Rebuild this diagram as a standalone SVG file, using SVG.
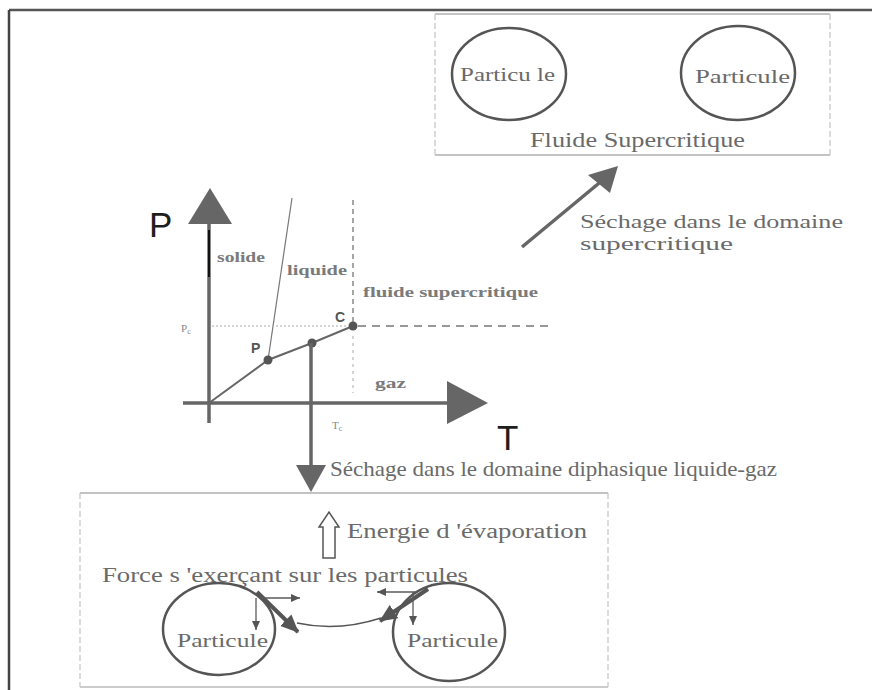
<svg xmlns="http://www.w3.org/2000/svg" width="872" height="690" viewBox="0 0 872 690">
<style>
.t{font-family:"Liberation Serif","Times New Roman",serif;fill:#6a6a6a;}
.lbl{font-family:"Liberation Serif","Times New Roman",serif;font-weight:bold;fill:#7a7a7a;font-size:14px}
.big{font-family:"Liberation Sans",Arial,sans-serif;fill:#1e1e1e;font-size:35px}
.sm{font-family:"Liberation Serif",serif;fill:#888;font-size:11px}
.pt{font-family:"Liberation Sans",Arial,sans-serif;font-weight:bold;fill:#555;font-size:14px}
.circ{fill:none;stroke:#555;stroke-width:2.5}
.ah{fill:#666}
.axis{stroke:#666;stroke-width:3.5;fill:none}
.thin{stroke:#5a5a5a;stroke-width:1.3;fill:none}
</style>
<defs>
<marker id="sa" markerUnits="userSpaceOnUse" markerWidth="9" markerHeight="8" refX="9" refY="4" orient="auto">
<path d="M0,0 L9,4 L0,8 z" fill="#555"/>
</marker>
<marker id="ba" markerUnits="userSpaceOnUse" markerWidth="18" markerHeight="16" refX="17" refY="8" orient="auto">
<path d="M0,0 L18,8 L0,16 z" fill="#555"/>
</marker>
</defs>
<rect width="872" height="690" fill="#fff"/>
<g id="frame">
<line x1="9" y1="10" x2="872" y2="10" stroke="#555" stroke-width="2.5"/>
<line x1="9" y1="10" x2="9" y2="690" stroke="#444" stroke-width="2.5"/>
</g>
<g id="box-supercritique">
<line x1="435" y1="14" x2="830" y2="14" stroke="#888" stroke-width="1.2"/>
<line x1="435" y1="155" x2="830" y2="155" stroke="#888" stroke-width="1.2"/>
<line x1="435" y1="14" x2="435" y2="155" stroke="#c4c4c4" stroke-width="1.2" stroke-dasharray="6 3"/>
<line x1="830" y1="14" x2="830" y2="155" stroke="#c4c4c4" stroke-width="1.2" stroke-dasharray="6 3"/>
<text class="t" x="530" y="147" font-size="20" textLength="215" lengthAdjust="spacingAndGlyphs">Fluide Supercritique</text>
</g>
<g id="particule-sc-1">
<ellipse class="circ" cx="509" cy="74" rx="57" ry="46"/>
<text class="t" x="460" y="81" font-size="18" textLength="95" lengthAdjust="spacingAndGlyphs">Particu le</text>
</g>
<g id="particule-sc-2">
<ellipse class="circ" cx="738" cy="73" rx="57" ry="47"/>
<text class="t" x="695" y="83" font-size="18" textLength="95" lengthAdjust="spacingAndGlyphs">Particule</text>
</g>
<g id="label-sechage-sc">
<text class="t" x="580" y="228" font-size="19" textLength="263" lengthAdjust="spacingAndGlyphs">Séchage dans le domaine</text>
<text class="t" x="580" y="250" font-size="19" textLength="153" lengthAdjust="spacingAndGlyphs">supercritique</text>
</g>
<g id="diagramme">
<line x1="209" y1="222" x2="209" y2="423" class="axis"/>
<polygon class="ah" points="188,224 210,188 232,224"/>
<line x1="209" y1="230" x2="209" y2="277" stroke="#111" stroke-width="2"/>
<line x1="183" y1="403" x2="450" y2="403" class="axis"/>
<polygon class="ah" points="447,381 488,403 447,424"/>
<line x1="292" y1="198" x2="268" y2="360" stroke="#777" stroke-width="1.2"/>
<line x1="212" y1="326" x2="347" y2="326" stroke="#aaa" stroke-width="1" stroke-dasharray="2 2"/>
<line x1="358" y1="326" x2="550" y2="326" stroke="#777" stroke-width="1.3" stroke-dasharray="8 6"/>
<line x1="353" y1="200" x2="353" y2="322" stroke="#777" stroke-width="1.3" stroke-dasharray="5 4"/>
<line x1="353" y1="336" x2="353" y2="393" stroke="#aaa" stroke-width="1" stroke-dasharray="3 4"/>
<polyline points="209,403 268,360 312,343 353,326" stroke="#666" stroke-width="2" fill="none"/>
<circle cx="268" cy="360" r="4.5" fill="#555"/>
<circle cx="312" cy="343" r="4.5" fill="#555"/>
<circle cx="353" cy="326" r="4.5" fill="#555"/>
<text class="big" x="149" y="237">P</text>
<text class="big" x="497" y="450" font-size="33">T</text>
<text class="lbl" x="217" y="262" textLength="48" lengthAdjust="spacingAndGlyphs">solide</text>
<text class="lbl" x="287" y="275" textLength="60" lengthAdjust="spacingAndGlyphs">liquide</text>
<text class="lbl" x="363" y="297" textLength="175" lengthAdjust="spacingAndGlyphs">fluide supercritique</text>
<text class="lbl" x="375" y="388" textLength="31" lengthAdjust="spacingAndGlyphs">gaz</text>
<text class="pt" x="251" y="353">P</text>
<text class="pt" x="335" y="322">C</text>
<text class="sm" x="181" y="332">P<tspan font-size="8" dy="2">c</tspan></text>
<text class="sm" x="332" y="429">T<tspan font-size="8" dy="2">c</tspan></text>
</g>
<g id="label-sechage-diph">
<text class="t" x="330" y="476" font-size="21" textLength="447" lengthAdjust="spacingAndGlyphs">Séchage dans le domaine diphasique liquide-gaz</text>
</g>
<g id="box-diphasique">
<line x1="80" y1="493" x2="608" y2="493" stroke="#888" stroke-width="1.2"/>
<line x1="80" y1="687" x2="608" y2="687" stroke="#999" stroke-width="1.2"/>
<line x1="80" y1="493" x2="80" y2="687" stroke="#c4c4c4" stroke-width="1.2" stroke-dasharray="6 3"/>
<line x1="608" y1="493" x2="608" y2="687" stroke="#c4c4c4" stroke-width="1.2" stroke-dasharray="6 3"/>
<path d="M323,558 L323,527 L319,527 L329,512 L339,527 L335,527 L335,558 Z" fill="#fff" stroke="#555" stroke-width="1.5"/>
<text class="t" x="347" y="538" font-size="20" textLength="240" lengthAdjust="spacingAndGlyphs">Energie d 'évaporation</text>
<text class="t" x="102" y="582" font-size="20" textLength="366" lengthAdjust="spacingAndGlyphs">Force s 'exerçant sur les particules</text>
</g>
<g id="particule-d-1">
<ellipse class="circ" cx="219" cy="629" rx="56" ry="46"/>
<text class="t" x="177" y="647" font-size="18" textLength="91" lengthAdjust="spacingAndGlyphs">Particule</text>
</g>
<g id="particule-d-2">
<ellipse class="circ" cx="449" cy="632" rx="56" ry="49"/>
<text class="t" x="407" y="647" font-size="18" textLength="91" lengthAdjust="spacingAndGlyphs">Particule</text>
</g>
<g id="connectors">
<line x1="522" y1="247" x2="604" y2="179" class="axis"/>
<polygon class="ah" points="588,175 618,166 610,193"/>
<line x1="311" y1="343" x2="311" y2="467" class="axis"/>
<polygon class="ah" points="296,465 326,465 311,492"/>
<path d="M297,623 Q338,632 381,618" stroke="#555" stroke-width="1.5" fill="none"/>
<line x1="257" y1="592" x2="298" y2="632" stroke="#555" stroke-width="4" marker-end="url(#ba)"/>
<line x1="428" y1="589" x2="380" y2="621" stroke="#555" stroke-width="4" marker-end="url(#ba)"/>
<line x1="262" y1="598" x2="300" y2="598" class="thin" marker-end="url(#sa)"/>
<line x1="256" y1="598" x2="256" y2="630" class="thin" marker-end="url(#sa)"/>
<line x1="418" y1="592" x2="377" y2="592" class="thin" marker-end="url(#sa)"/>
<line x1="413" y1="592" x2="413" y2="625" class="thin" marker-end="url(#sa)"/>
</g>
</svg>
